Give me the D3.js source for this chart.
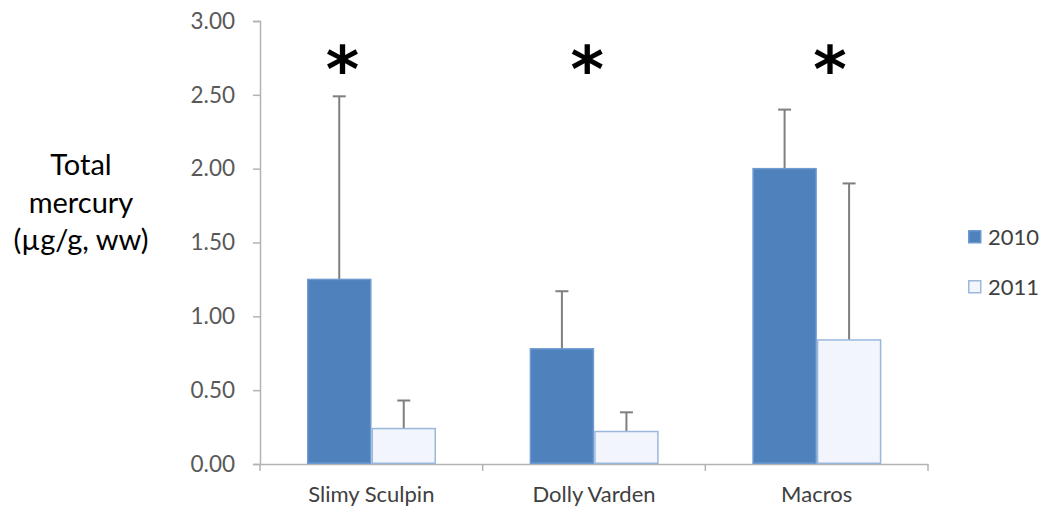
<!DOCTYPE html>
<html><head><meta charset="utf-8">
<script src="https://cdn.jsdelivr.net/npm/d3@7"></script>
<style>body{margin:0;background:#fff}svg{display:block}text{font-family:Lato,"Open Sans",sans-serif}</style>
</head><body>
<svg id="c" width="1044" height="512"></svg>
<script>
const categories = ["Slimy Sculpin", "Dolly Varden", "Macros"];
const seriesNames = ["2010", "2011"];
const values2010 = [1.25, 0.78, 2.00];
const values2011 = [0.24, 0.22, 0.84];
const errTop2010 = [2.49, 1.17, 2.40];
const errTop2011 = [0.43, 0.35, 1.90];
const yTicks = [0, 0.5, 1, 1.5, 2, 2.5, 3];
const significant = [true, true, true];
const yTitle = ["Total", "mercury", "(µg/g, ww)"];

const svg = d3.select("#c");
const fills = {"2010": "#4f81bd", "2011": "#f2f5fb"};
const strokes = {"2010": "#6d9ad0", "2011": "#9ab8dc"};

const y = d3.scaleLinear().domain([0, 3]).range([464, 21]);
const x0 = d3.scaleBand().domain(categories).range([260, 928]).padding(0);
const x1 = d3.scaleBand().domain(seriesNames).range([47, 176]).padding(0);

// y axis
const yAxis = svg.append("g").attr("transform", "translate(260,0)")
  .call(d3.axisLeft(y).tickValues(yTicks).tickFormat(d3.format(".2f")).tickSize(7).tickPadding(18));
yAxis.select(".domain").attr("stroke", "#b3b3b3").attr("stroke-width", 1.5);
yAxis.selectAll(".tick line").attr("stroke", "#b3b3b3").attr("stroke-width", 1.5);
yAxis.selectAll(".tick text").attr("fill", "#595959").style("font-size", "22.5px").style("font-family", "Lato");

// x axis
const xAxis = svg.append("g").attr("transform", "translate(0,464)")
  .call(d3.axisBottom(x0).tickSize(0).tickPadding(22));
xAxis.select(".domain").attr("stroke", "#b3b3b3").attr("stroke-width", 1.5);
xAxis.selectAll(".tick text").attr("fill", "#404040").style("font-size", "22px").style("font-family", "Lato");
const bounds = categories.map(c => x0(c)).concat([x0(categories[categories.length-1]) + x0.bandwidth()]);
svg.append("g").selectAll("line").data(bounds).join("line")
  .attr("x1", d => d).attr("x2", d => d).attr("y1", 464).attr("y2", 471)
  .attr("stroke", "#b3b3b3").attr("stroke-width", 1.5);

// bars
const rows = categories.map((c, i) => ({c, s: [
  {k: "2010", v: values2010[i], e: errTop2010[i]},
  {k: "2011", v: values2011[i], e: errTop2011[i]}]}));
const g = svg.append("g").selectAll("g").data(rows).join("g")
  .attr("transform", d => `translate(${x0(d.c)},0)`);
g.selectAll("g.err").data(d => d.s).join("g").attr("class", "err").each(function(d) {
  const cx = x1(d.k) + x1.bandwidth() / 2;
  const e = d3.select(this);
  e.append("line").attr("x1", cx).attr("x2", cx).attr("y1", y(d.v)).attr("y2", y(d.e))
    .attr("stroke", "#7f7f7f").attr("stroke-width", 2);
  e.append("line").attr("x1", cx - 6.5).attr("x2", cx + 6.5).attr("y1", y(d.e)).attr("y2", y(d.e))
    .attr("stroke", "#7f7f7f").attr("stroke-width", 2);
});
g.selectAll("rect").data(d => d.s).join("rect")
  .attr("x", d => x1(d.k) + 0.75).attr("width", x1.bandwidth() - 1.5)
  .attr("y", d => y(d.v)).attr("height", d => y(0) - y(d.v) - 0.75)
  .attr("fill", d => fills[d.k]).attr("stroke", d => strokes[d.k]).attr("stroke-width", 1.5);

// asterisks
const starOffset = [0.37, 0.47, 0.56];
svg.append("g").selectAll("text").data(categories.filter((c, i) => significant[i])).join("text")
  .attr("x", (d, i) => x0(d) + x0.bandwidth() * starOffset[i])
  .attr("y", y(2.72) + 30)
  .attr("text-anchor", "middle")
  .style("font-size", "64px").style("font-weight", "bold").style("font-family", "DejaVu Sans")
  .attr("fill", "#000").text("*");

// y title
svg.append("text").attr("x", 81).attr("y", 175).attr("text-anchor", "middle")
  .style("font-size", "29px").attr("fill", "#000")
  .selectAll("tspan").data(yTitle).join("tspan")
  .attr("x", 81).attr("dy", (d, i) => i === 0 ? 0 : 37.5).text(d => d);

// legend
const lg = svg.append("g").selectAll("g").data(seriesNames).join("g")
  .attr("transform", (d, i) => `translate(968,${230 + i * 50})`);
lg.append("rect").attr("x", 0.75).attr("y", 0.75).attr("width", 12).attr("height", 12)
  .attr("fill", d => fills[d]).attr("stroke", d => strokes[d]).attr("stroke-width", 1.5);
lg.append("text").attr("x", 20).attr("y", 14.5).attr("fill", "#404040")
  .style("font-size", "22px").text(d => d);
</script>
</body></html>
